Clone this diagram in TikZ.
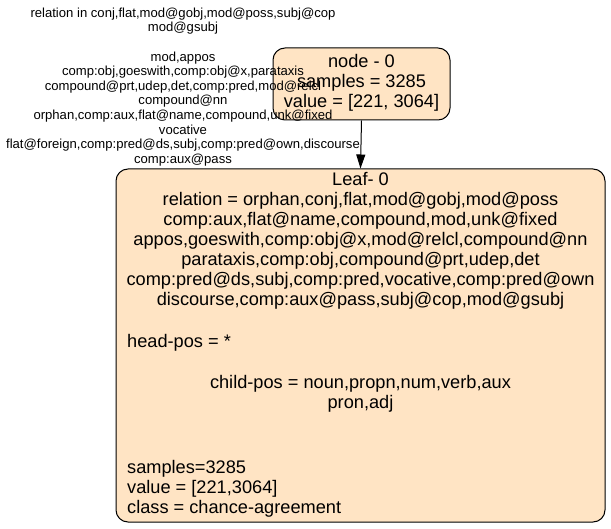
\documentclass[tikz,border=0pt]{standalone}
\usepackage{fontspec}
\setmainfont{Liberation Sans}
\usetikzlibrary{arrows.meta}
\definecolor{boxfill}{HTML}{FFE4C4}
\tikzset{
  treebox/.style={draw=black, line width=1pt, fill=boxfill, rounded corners=12pt, inner sep=0pt},
  bigtxt/.style={font=\fontsize{18.2}{20}\selectfont, inner sep=0pt, align=center},
  lefttxt/.style={font=\fontsize{18.2}{20}\selectfont, inner sep=0pt, align=left, anchor=west},
  edgetxt/.style={font=\fontsize{13.1}{14.6}\selectfont, inner sep=0pt, align=center},
  edgearrow/.style={line width=1pt, -{Triangle[length=14pt,width=9pt]}}
}
\begin{document}
\begin{tikzpicture}[x=1pt, y=-1pt]
  \useasboundingbox (0,0) rectangle (611,529);

  % decision node
  \node[treebox, minimum width=177pt, minimum height=72pt] (root) at (361.5,84) {};
  \node[bigtxt] (roottext) at (361.5,83) {node - 0\\samples = 3285\\value = [221, 3064]};

  % leaf
  \node[treebox, minimum width=489pt, minimum height=353pt] (leaf) at (360.5,345.5) {};
  \node[bigtxt] (leafhead) at (360.5,241) {Leaf- 0\\
    relation = orphan,conj,flat,mod@gobj,mod@poss\\
    comp:aux,flat@name,compound,mod,unk@fixed\\
    appos,goeswith,comp:obj@x,mod@relcl,compound@nn\\
    parataxis,comp:obj,compound@prt,udep,det\\
    comp:pred@ds,subj,comp:pred,vocative,comp:pred@own\\
    discourse,comp:aux@pass,subj@cop,mod@gsubj};
  \node[lefttxt] (headpos) at (127,343) {head-pos = *};
  \node[bigtxt] (childpos) at (360.5,394) {child-pos = noun,propn,num,verb,aux\\pron,adj};
  \node[lefttxt] (leafstats) at (127,489) {samples=3285\\value = [221,3064]\\class = chance-agreement};

  % connector and its condition
  \draw[edgearrow] (root.south) -- (leaf.north);
  \node[edgetxt] (cond) at (183,87) {relation in conj,flat,mod@gobj,mod@poss,subj@cop\\
    mod@gsubj\\[14.6pt]
    mod,appos\\
    comp:obj,goeswith,comp:obj@x,parataxis\\
    compound@prt,udep,det,comp:pred,mod@relcl\\
    compound@nn\\
    orphan,comp:aux,flat@name,compound,unk@fixed\\
    vocative\\
    flat@foreign,comp:pred@ds,subj,comp:pred@own,discourse\\
    comp:aux@pass};
\end{tikzpicture}
\end{document}
